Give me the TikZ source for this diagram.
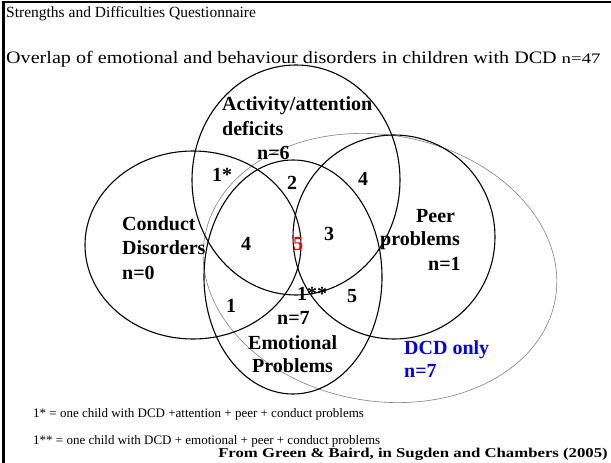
\documentclass[tikz,border=0pt]{standalone}
\usepackage{fontspec}
\setmainfont{Liberation Serif}
% wider cuts of the same face for the stretched lines
\newfontfamily\headwide[FakeStretch=1.15]{Liberation Serif}
\newfontfamily\countwide[FakeStretch=1.3]{Liberation Serif}
\newfontfamily\srcwide[FakeStretch=1.24]{Liberation Serif}
\definecolor{dcdblue}{RGB}{0,0,255}
\definecolor{hotred}{RGB}{255,0,0}
\begin{document}
\begin{tikzpicture}[x=1pt,y=-1pt,
  ring/.style={draw=black, line width=1.1pt},
  dcdring/.style={draw=black!50, line width=0.6pt},
  heading/.style={font=\fontsize{15.5}{18}\selectfont, anchor=base west, inner sep=0pt},
  setname/.style={font=\fontsize{20}{24}\selectfont\bfseries, anchor=base west, inner sep=0pt},
  count/.style={font=\fontsize{20}{24}\selectfont\bfseries, anchor=base, inner sep=0pt},
  note/.style={font=\fontsize{13}{15}\selectfont, anchor=base west, inner sep=0pt}]
\useasboundingbox (0,0) rectangle (611,463);

% slide frame (top and left edges)
\draw[line width=2.5pt] (3.5,463) -- (3.5,2) -- (611,2);

% headings
\node[heading] (h1) at (6,17) {Strengths and Difficulties Questionnaire};
\node[heading, font=\headwide\fontsize{17.5}{20}\selectfont] (h2) at (6,63)
  {Overlap of emotional and behaviour disorders in children with DCD {\countwide\fontsize{14.5}{16}\selectfont n=47}};

% the five sets
\draw[dcdring] (380,268) ellipse[x radius=178, y radius=133, rotate=-10];
\draw[ring] (296,180) ellipse[x radius=104, y radius=115];
\draw[ring] (193,245) ellipse[x radius=108, y radius=94];
\draw[ring] (293,277) ellipse[x radius=89, y radius=117];
\draw[ring] (394,237) ellipse[x radius=101, y radius=102];

% set names
\node[setname] (act1) at (222,110) {Activity/attention};
\node[setname] (act2) at (222,135) {deficits};
\node[setname] (actn) at (257,159) {n=6};
\node[setname] (con1) at (122,230) {Conduct};
\node[setname] (con2) at (122,254) {Disorders};
\node[setname] (conn) at (122,279) {n=0};
\node[setname] (peer1) at (416,222) {Peer};
\node[setname] (peer2) at (380,245) {problems};
\node[setname] (peern) at (428,270) {n=1};
\node[setname] (emon) at (277,324) {n=7};
\node[setname] (emo1) at (248,349) {Emotional};
\node[setname] (emo2) at (252,372) {Problems};
\node[setname, text=dcdblue] (dcd1) at (404,354) {DCD only};
\node[setname, text=dcdblue] (dcdn) at (404,377) {n=7};

% region counts
\node[count, anchor=base west] (r1s) at (212,181) {1*};
\node[count] (r2) at (292,189) {2};
\node[count] (r4a) at (363,185) {4};
\node[count] (r4b) at (246,250) {4};
\node[count, text=hotred] (r5a) at (298,250) {5};
\node[count] (r3) at (329,240) {3};
\node[count] (r1) at (231,312) {1};
\node[count, anchor=base west] (r1ss) at (297,300) {1**};
\node[count] (r5b) at (352,302) {5};

% footnotes and source
\node[note] (f1) at (33,417) {1* = one child with DCD +attention + peer + conduct problems};
\node[note] (f2) at (33,444) {1** = one child with DCD + emotional + peer + conduct problems};
\node[note, font=\srcwide\fontsize{13.5}{15}\selectfont\bfseries, anchor=base east] (src) at (608,457)
  {From Green \& Baird, in Sugden and Chambers (2005)};
\end{tikzpicture}
\end{document}
